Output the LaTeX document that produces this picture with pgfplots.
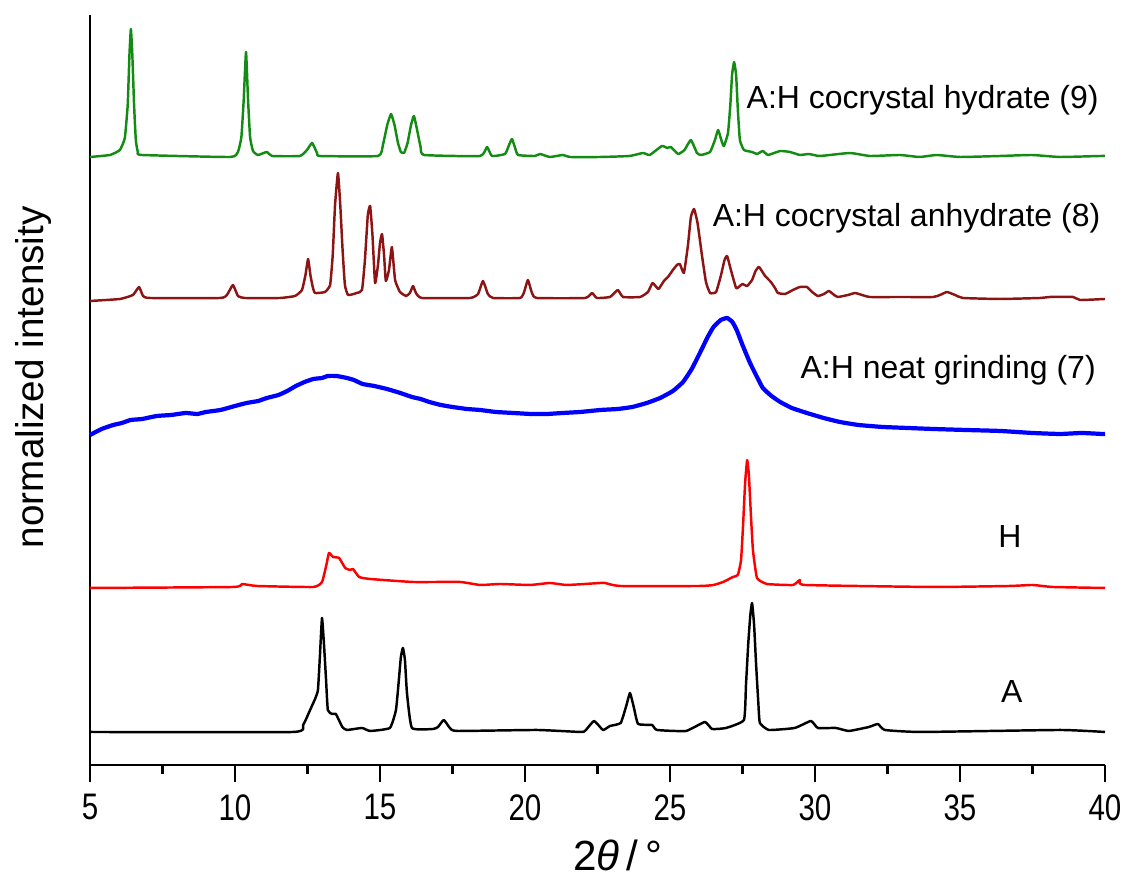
\documentclass[border=0pt]{standalone}
\usepackage{fontspec}
\setmainfont{Liberation Sans}
\newfontfamily\narrowfont{Liberation Sans}[FakeStretch=0.8]
\usepackage{pgfplots}
\pgfplotsset{compat=1.18}

\definecolor{hydgreen}{RGB}{20,140,20}
\definecolor{anhbrown}{RGB}{140,20,20}
\tikzset{lbl/.style={font=\fontsize{9.1}{11}\selectfont, inner sep=0pt}}

\begin{document}
\begin{tikzpicture}
\begin{axis}[
  width=10.15cm, height=7.5cm, scale only axis,
  xmin=5, xmax=40, ymin=0, ymax=750,
  axis x line=bottom, axis y line=left,
  axis line style={-, line width=0.8pt},
  xtick={5,10,...,40}, minor x tick num=1,
  ytick=\empty,
  tick align=outside,
  major tick length=0.17cm, minor tick length=0.09cm,
  tick style={line width=0.7pt, black},
  xticklabel style={font=\narrowfont\fontsize{10.5}{11}\selectfont},
  /pgf/number format/assume math mode=true,
  xlabel={2\textit{θ}\,/\,°},
  xlabel style={font=\fontsize{12}{14}\selectfont, at={(axis description cs:0.52,0)}, anchor=center, yshift=-0.9cm},
  ylabel={normalized intensity},
  ylabel style={font=\fontsize{11}{13}\selectfont, at={(axis description cs:-0.056,0.517)}, anchor=center},
  clip=false,
  every axis plot/.append style={line width=0.7pt, line join=round, smooth, tension=0.25},
]
% A:H cocrystal hydrate (9)
\addplot[hydgreen] coordinates {
(5,608) (5.69,610) (6.03,615) (6.2,627) (6.3,660) (6.36,710) (6.41,736) (6.46,710) (6.52,660) (6.58,625) (6.65,613) (6.79,610)
(9.83,608) (10.1,613) (10.22,628) (10.3,665) (10.38,713) (10.45,665) (10.52,628) (10.62,614) (10.79,610) (11.1,613) (11.28,609)
(12.24,609) (12.48,615) (12.66,622) (12.83,612) (12.93,609) (14.93,609) (15.1,620) (15.25,640) (15.38,651) (15.5,640) (15.62,622)
(15.72,613) (15.83,612) (15.95,622) (16.07,640) (16.17,649) (16.28,635) (16.4,618) (16.52,610) (18.45,609) (18.69,618) (18.86,609)
(19.31,611) (19.45,620) (19.55,626) (19.65,618) (19.76,610) (20.34,609) (20.52,611) (20.86,608) (21.3,610) (21.55,608) (22.59,608)
(23.6,609) (24.07,612) (24.3,610) (24.72,619) (24.9,617) (25.03,618) (25.28,611) (25.5,615) (25.72,625) (25.93,612) (26.07,610)
(26.38,613) (26.55,625) (26.66,635) (26.79,623) (26.86,619) (27.0,632) (27.08,660) (27.14,690) (27.21,703) (27.28,690) (27.34,655)
(27.41,625) (27.55,615) (27.83,613) (28.0,611) (28.2,614) (28.38,610) (28.8,614) (29.14,613) (29.48,610) (29.79,611) (30.17,609)
(31.2,612) (31.9,609) (32.93,610) (33.6,608) (34.2,610) (35.0,608) (36.38,609) (37.48,610) (38.45,608) (39.83,609) (40,609)
};
% A:H cocrystal anhydrate (8)
\addplot[anhbrown] coordinates {
(5,464) (6.03,466) (6.48,470) (6.69,478) (6.83,469) (7.07,467) (9.48,467) (9.72,470) (9.93,480) (10.1,469) (10.34,467)
(11.55,467) (12.07,469) (12.31,475) (12.43,490) (12.52,506) (12.6,490) (12.68,478) (12.76,472) (13.1,473) (13.28,480) (13.37,510)
(13.45,560) (13.55,592) (13.63,560) (13.71,515) (13.79,480) (13.9,470) (14.2,472) (14.38,475) (14.48,505) (14.58,550) (14.66,559)
(14.74,530) (14.83,482) (14.93,500) (15.0,522) (15.07,531) (15.14,510) (15.2,484) (15.31,495) (15.41,518) (15.52,485) (15.69,473)
(15.9,469) (16.03,472) (16.14,479) (16.24,472) (16.45,467) (18.1,467) (18.38,471) (18.55,484) (18.72,471) (18.9,467) (19.83,467)
(19.97,473) (20.1,485) (20.24,472) (20.41,467) (22.07,467) (22.31,472) (22.48,467) (22.93,468) (23.2,475) (23.38,468) (23.97,468)
(24.24,473) (24.4,482) (24.6,476) (24.79,484) (24.93,488) (25.1,495) (25.24,500) (25.34,501) (25.48,492) (25.62,520) (25.72,548)
(25.83,556) (25.95,542) (26.1,510) (26.24,483) (26.38,472) (26.59,473) (26.76,490) (26.88,505) (26.97,509) (27.1,495) (27.28,477)
(27.41,479) (27.5,481) (27.66,479) (27.83,485) (27.95,494) (28.07,498) (28.28,489) (28.48,483) (28.62,477) (28.72,472) (28.97,471)
(29.24,475) (29.48,478) (29.72,478) (29.9,473) (30.1,469) (30.31,471) (30.48,474) (30.66,470) (30.79,468) (31.14,470) (31.38,472)
(31.62,470) (31.9,468) (32.93,468) (34.07,468) (34.31,470) (34.55,473) (34.83,470) (35.1,467) (36.38,466) (37.76,467) (38.1,468)
(38.9,468) (39.14,465) (40,466)
};
% A:H neat grinding (7)
\addplot[blue, line width=1.2pt] coordinates {
(5,330) (5.4,336) (5.8,340) (6.1,342) (6.4,345) (6.8,346) (7.3,349) (7.8,350) (8.3,352) (8.7,351) (9.0,353) (9.5,355) (10.0,359)
(10.4,362) (10.8,364) (11.1,367) (11.5,370) (11.8,374) (12.1,379) (12.4,383) (12.7,386) (13.0,387) (13.2,389) (13.5,389) (13.86,387)
(14.1,385) (14.4,381) (14.8,379) (15.24,376) (15.7,372) (16.1,368) (16.4,366) (16.7,363) (17.1,360) (17.5,358) (18.0,356) (18.45,355)
(19.0,353) (19.6,352) (20.2,351) (20.76,351) (21.3,352) (21.9,353) (22.6,355) (23.2,356) (23.7,358) (24.2,362) (24.66,367) (25.1,374)
(25.45,383) (25.75,396) (26.03,412) (26.3,428) (26.5,438) (26.75,445) (26.97,447) (27.15,443) (27.3,435) (27.5,420) (27.76,402)
(28.0,388) (28.2,377) (28.5,369) (28.8,363) (29.2,357) (29.72,352) (30.3,347) (30.86,343) (31.5,340) (32.34,338) (33.2,337)
(34.07,336) (35.2,335) (36.4,334) (37.5,332) (38.45,331) (39.2,332) (39.9,331) (40,331)
};
% H
\addplot[red] coordinates {
(5,177) (9.93,178) (10.24,181) (10.76,179) (12.7,178) (13.0,183) (13.15,200) (13.24,212) (13.38,208) (13.59,207) (13.8,197)
(13.97,195) (14.07,196) (14.28,188) (14.66,186) (16.14,183) (17.76,183) (18.45,180) (19.14,181) (20.17,180) (20.86,182) (21.45,180)
(22.6,182) (22.76,182) (23.28,179) (26.03,179) (26.5,180) (26.83,183) (27.17,188) (27.34,190) (27.45,205) (27.52,240) (27.59,282)
(27.66,305) (27.72,290) (27.79,250) (27.86,215) (28.0,187) (28.34,181) (29.24,180) (29.48,185) (29.66,180) (34.07,178) (36.7,179)
(37.5,180) (38.2,178) (40,177)
};
% A
\addplot[black] coordinates {
(5,33) (12.0,33) (12.35,40) (12.59,55) (12.76,66) (12.86,75) (12.93,110) (13.0,147) (13.07,120) (13.14,85) (13.2,55) (13.34,51)
(13.48,51) (13.7,38) (13.86,35) (14.38,37) (14.66,34) (15.34,37) (15.55,55) (15.65,85) (15.72,108) (15.79,117) (15.86,105)
(15.93,72) (16.1,37) (16.83,36) (17.0,38) (17.2,45) (17.41,37) (17.66,34) (20.41,35) (21.9,33) (22.07,34) (22.38,44) (22.69,35)
(22.93,39) (23.3,42) (23.5,60) (23.62,72) (23.75,58) (23.9,41) (24.38,40) (24.55,35) (25.55,34) (26.2,43) (26.45,36) (26.93,37)
(27.55,45) (27.62,80) (27.7,122) (27.77,150) (27.83,162) (27.9,140) (27.97,100) (28.05,60) (28.1,42) (28.41,35) (29.3,37) (29.86,44)
(30.1,37) (30.72,37) (31.17,34) (31.86,38) (32.17,41) (32.41,35) (33.66,33) (38.45,35) (40,33)
};
\node[lbl, anchor=west] at (axis cs:27.62,665) {A:H cocrystal hydrate (9)};
\node[lbl, anchor=west] at (axis cs:26.45,547) {A:H cocrystal anhydrate (8)};
\node[lbl, anchor=west] at (axis cs:29.48,395) {A:H neat grinding (7)};
\node[lbl] at (axis cs:36.72,228) {H};
\node[lbl] at (axis cs:36.79,73) {A};
\end{axis}
\path (current axis.south west) ++(-0.9cm,-1.09cm) coordinate (bl);
\path (current axis.north east) ++(0.21cm,0.15cm) coordinate (tr);
\pgfresetboundingbox
\useasboundingbox (bl) rectangle (tr);
\end{tikzpicture}
\end{document}
